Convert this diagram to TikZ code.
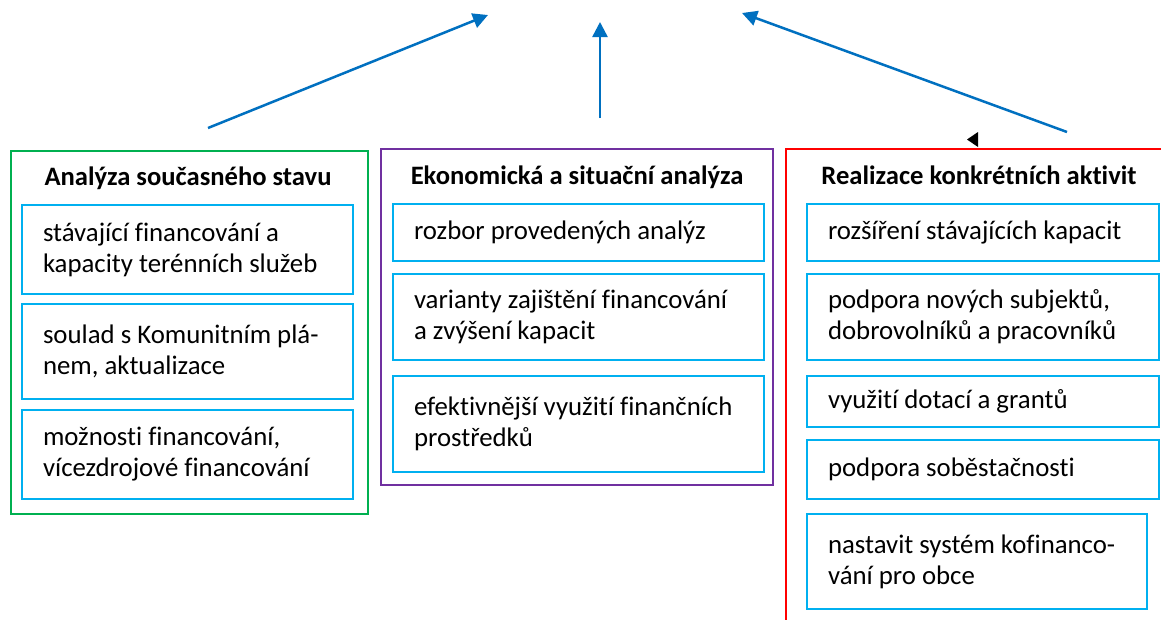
\documentclass[tikz,border=0pt]{standalone}
\usepackage{fontspec}
\setmainfont{Carlito}[Ligatures=CommonOff]
\usetikzlibrary{arrows.meta}
\definecolor{arrowblue}{HTML}{0070C0}
\definecolor{itemblue}{HTML}{00B0F0}
\definecolor{grn}{HTML}{00B050}
\definecolor{purp}{HTML}{7030A0}
\definecolor{rd}{HTML}{FF0000}
\begin{document}
\begin{tikzpicture}[x=1pt,y=-1pt,
  panel/.style n args={3}{draw=#1, line width=1.5pt, anchor=north west, inner sep=0pt, minimum width=#2pt, minimum height=#3pt},
  item/.style n args={3}{draw=itemblue, line width=2pt, anchor=north west, inner xsep=21pt, inner ysep=0pt, align=flush left,
    font=\fontsize{26.8}{31}\selectfont, minimum width=#1pt, text width=#2pt, minimum height=#3pt},
  ttl/.style={font=\bfseries\fontsize{26.6}{30}\selectfont, anchor=base, inner sep=0pt},
  arr/.style={draw=arrowblue, line width=2.5pt, -{Triangle[length=15pt,width=15pt]}}
]
\path[use as bounding box] (0,0) rectangle (1161,619);
\clip (0,0) rectangle (1161,619);
\fill[white] (0,0) rectangle (1161,619);

% panels
\node[panel={grn}{357}{363}] (pg) at (10,150) {};
\node[panel={purp}{392}{336}] (pp) at (380,148) {};
\node[panel={rd}{400}{500}] (pr) at (785,148) {};

% titles
\node[ttl] (tg) at (188,185) {Analýza současného stavu};
\node[ttl] (tp) at (577,184) {Ekonomická a situační analýza};
\node[ttl] (tr) at (979,184) {Realizace konkrétních aktivit};

% green items
\node[item={331}{289}{89}] (g1) at (21,204) {stávající financování a\\kapacity terénních služeb};
\node[item={331}{289}{95}] (g2) at (21,303) {soulad s Komunitním plá-\\nem, aktualizace};
\node[item={331}{289}{89}] (g3) at (21,409) {možnosti financování,\\vícezdrojové financování};

% purple items
\node[item={371}{329}{57}] (p1) at (392,203) {rozbor provedených analýz};
\node[item={371}{329}{86}] (p2) at (392,273) {varianty zajištění financování\\a zvýšení kapacit};
\node[item={371}{329}{96}] (p3) at (392,375) {efektivnější využití finančních\\prostředků};

% red items
\node[item={352}{310}{57}] (r1) at (806,203) {rozšíření stávajících kapacit};
\node[item={352}{310}{86}] (r2) at (806,273) {podpora nových subjektů,\\dobrovolníků a pracovníků};
\node[item={352}{310}{51}] (r3) at (806,375) {využití dotací a grantů};
\node[item={352}{310}{59}] (r4) at (806,439) {podpora soběstačnosti};
\node[item={340}{298}{95}] (r5) at (806,513) {nastavit systém kofinanco-\\vání pro obce};

% arrows
\coordinate (a1s) at (208,128); \coordinate (a1e) at (488,15);
\coordinate (a2s) at (600,118); \coordinate (a2e) at (600,22);
\coordinate (a3s) at (1067,132); \coordinate (a3e) at (742,13);
\draw[arr] (a1s) -- (a1e);
\draw[arr] (a2s) -- (a2e);
\draw[arr] (a3s) -- (a3e);

% small black marker
\fill[black] (978,132) -- (967,139.5) -- (978,147) -- cycle;
\end{tikzpicture}
\end{document}
